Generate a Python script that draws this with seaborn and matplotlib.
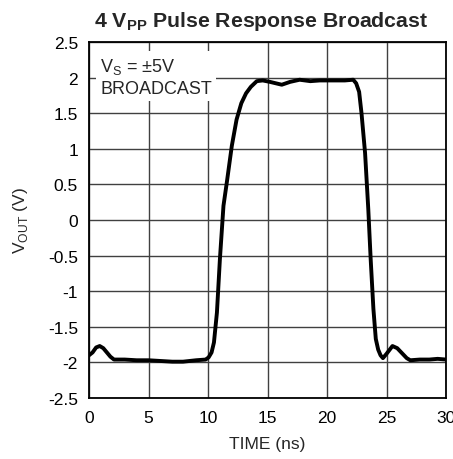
import matplotlib
matplotlib.use("Agg")
import matplotlib.pyplot as plt
import seaborn as sns
import pandas as pd

time_ns = [0, 0.3, 0.6, 0.9, 1.2, 1.5, 1.8, 2.1, 3.0, 4.0, 5.0, 6.0, 7.0, 7.9, 9.0, 9.8,
           10.05, 10.3, 10.5, 10.75, 11.0, 11.3, 11.6, 12.0, 12.4, 12.8, 13.2, 13.6, 14.1,
           14.6, 15.2, 15.7, 16.2, 16.9, 17.7, 18.6, 19.4, 20.5, 21.5, 22.2, 22.45, 22.7,
           22.9, 23.2, 23.47, 23.67, 23.9, 24.1, 24.3, 24.5, 24.7, 25.0, 25.5, 25.9, 26.3,
           26.7, 27.0, 27.8, 28.6, 29.3, 30.0]
vout = [-1.90, -1.86, -1.79, -1.77, -1.80, -1.86, -1.92, -1.96, -1.96, -1.97, -1.97, -1.98,
        -1.99, -1.99, -1.97, -1.96, -1.93, -1.86, -1.72, -1.30, -0.55, 0.2, 0.55, 1.04, 1.41,
        1.64, 1.78, 1.87, 1.95, 1.96, 1.94, 1.92, 1.90, 1.94, 1.97, 1.95, 1.96, 1.96, 1.96,
        1.97, 1.92, 1.80, 1.50, 0.94, 0.15, -0.55, -1.25, -1.67, -1.82, -1.90, -1.94, -1.88,
        -1.77, -1.80, -1.87, -1.94, -1.97, -1.96, -1.96, -1.95, -1.96]

x_ticks = [0, 5, 10, 15, 20, 25, 30]
y_ticks = [2.5, 2, 1.5, 1, 0.5, 0, -0.5, -1, -1.5, -2, -2.5]
y_tick_labels = ["2.5", "2", "1.5", "1", "0.5", "0", "-0.5", "-1", "-1.5", "-2", "-2.5"]

sns.set_style("white")
plt.rcParams["font.family"] = ["Liberation Sans", "DejaVu Sans"]
plt.rcParams["mathtext.fontset"] = "custom"
plt.rcParams["mathtext.rm"] = "Liberation Sans"
plt.rcParams["mathtext.bf"] = "Liberation Sans:bold"

fig = plt.figure(figsize=(4.53, 4.60), dpi=100)
ax = fig.add_axes([89 / 453, 1 - 399 / 460, 357 / 453, 356 / 460])

df = pd.DataFrame({"t": time_ns, "v": vout})
sns.lineplot(data=df, x="t", y="v", ax=ax, color="black", linewidth=2.8, zorder=3)

ax.set_xlim(0, 30)
ax.set_ylim(-2.5, 2.5)
ax.set_xticks(x_ticks)
ax.set_xticklabels([str(t) for t in x_ticks])
ax.set_yticks(y_ticks)
ax.set_yticklabels(y_tick_labels)
ax.tick_params(length=0, labelsize=12.5, colors="black")
ax.tick_params(axis="x", pad=9)
ax.tick_params(axis="y", pad=8)
ax.grid(True, color="#404040", linewidth=1.0)
for s in ax.spines.values():
    s.set_color("black")
    s.set_linewidth(1.3)

ax.set_xlabel("TIME (ns)", fontsize=12.5)
ax.set_ylabel(r"V$_\mathregular{OUT}$ (V)", fontsize=12.5)
ax.xaxis.set_label_coords(0.5, (399 - 445) / 356)
ax.xaxis.label.set_verticalalignment("center")
ax.yaxis.set_label_coords((20 - 89) / 357, 0.5)
ax.yaxis.label.set_verticalalignment("center")
ax.yaxis.label.set_horizontalalignment("center")

fig.text(261 / 453, 1 - 27 / 460, r"4 $\mathbf{V_{PP}}$ Pulse Response Broadcast",
         fontsize=15.3, fontweight="bold", ha="center", va="baseline")

ax.text(0.031, 0.96, "V$_\\mathregular{S}$ = ±5V\nBROADCAST", transform=ax.transAxes,
        ha="left", va="top", fontsize=13, linespacing=1.3, zorder=4,
        bbox=dict(facecolor="white", edgecolor="none", pad=3))

fig.savefig("out.png", dpi=100)
